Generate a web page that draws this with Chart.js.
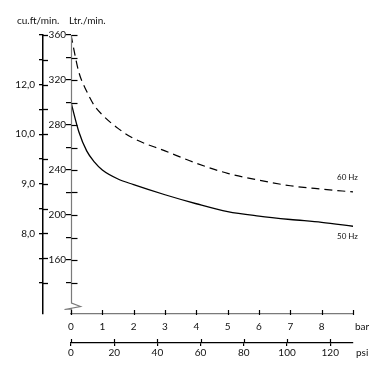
<!DOCTYPE html>
<html>
<head>
<meta charset="utf-8">
<script src="https://cdn.jsdelivr.net/npm/chart.js@4.4.1/dist/chart.umd.min.js"></script>
<style>
  html, body { margin: 0; padding: 0; background: #fff; }
  canvas { display: block; }
</style>
</head>
<body>
<canvas id="c" width="387" height="374"></canvas>
<script>
// ---- data ----
const pressureBar = [0, 0.25, 0.5, 0.75, 1, 1.5, 2, 3, 4, 5, 6, 7, 8, 9];
const flow50Hz = [300, 274, 257, 247, 240, 232, 227, 218, 210, 203, 199, 196, 193.5, 190];
const flow60Hz = [360, 327, 310, 297, 289, 277, 268, 257, 246, 237, 231, 226, 223, 220.5];

const barTicks = [0, 1, 2, 3, 4, 5, 6, 7, 8, 9];
const barTickLabels = ['0', '1', '2', '3', '4', '5', '6', '7', '8', ''];
const barUnit = 'bar';
const psiTicks = [0, 20, 40, 60, 80, 100, 120];
const psiUnit = 'psi';
const PSI_PER_BAR = 14.5038;

const ltrTicks = [140, 160, 180, 200, 220, 240, 260, 280, 300, 320, 340, 360];
const ltrLabeled = [160, 200, 240, 280, 320, 360];
const ltrMin = 112, ltrMax = 360;

// cu.ft axis: tick slots from bottom (0) to top (10), printed labels
const cuftTicks = [0, 1, 2, 3, 4, 5, 6, 7, 8, 9, 10];
const cuftTickLabels = ['', '', '8,0', '', '9,0', '', '10,0', '', '12,0', '', ''];

const seriesNames = ['50 Hz', '60 Hz'];
const axisTitles = ['cu.ft/min.', 'Ltr./min.'];

const FONT = 'Lato, "Open Sans", sans-serif';
const INK = '#111';

const extras = {
  id: 'extras',
  afterDraw(chart) {
    const ctx = chart.ctx;
    const ca = chart.chartArea;
    const sx = chart.scales.x, sp = chart.scales.xPsi, sy = chart.scales.y, sc = chart.scales.yCu;
    ctx.save();
    ctx.strokeStyle = '#000';
    // inner parts of cu.ft ticks
    ctx.lineWidth = 1.3;
    cuftTicks.forEach(v => {
      const y = Math.round(sc.getPixelForValue(v)) + 0.5;
      ctx.beginPath(); ctx.moveTo(sc.right, y); ctx.lineTo(sc.right + 5, y); ctx.stroke();
    });
    // Ltr axis line with break
    const L = ca.left + 0.5, B = ca.bottom;
    ctx.strokeStyle = '#7a7a7a';
    ctx.lineWidth = 1.2;
    ctx.beginPath();
    ctx.moveTo(L, ca.top);
    ctx.lineTo(L, B - 11);
    ctx.lineTo(L + 9, B - 7.5);
    ctx.lineTo(L - 7, B - 4.5);
    ctx.lineTo(L, B - 5);
    ctx.lineTo(L, B);
    ctx.stroke();
    // inner parts of Ltr ticks
    ctx.strokeStyle = '#000';
    ctx.lineWidth = 1.2;
    ltrTicks.forEach(v => {
      const y = Math.round(sy.getPixelForValue(v)) + 0.5;
      ctx.beginPath(); ctx.moveTo(L, y); ctx.lineTo(L + 6, y); ctx.stroke();
    });
    // bar ticks (upward)
    barTicks.forEach(v => {
      const x = Math.round(sx.getPixelForValue(v)) + 0.5;
      ctx.beginPath(); ctx.moveTo(x, sx.top + 1); ctx.lineTo(x, sx.top - 4); ctx.stroke();
    });
    // psi ticks (upward part)
    psiTicks.forEach(v => {
      const x = Math.round(sp.getPixelForValue(v)) + 0.5;
      ctx.beginPath(); ctx.moveTo(x, sp.top); ctx.lineTo(x, sp.top - 4); ctx.stroke();
    });
    // unit labels
    ctx.fillStyle = INK;
    ctx.font = '10px ' + FONT;
    ctx.textAlign = 'left';
    let it = sx.getLabelItems()[0];
    ctx.textBaseline = it.options.textBaseline;
    ctx.fillText(barUnit, sx.getPixelForValue(9) + 2, it.options.translation[1] + (it.textOffset || 0));
    it = sp.getLabelItems()[0];
    ctx.textBaseline = it.options.textBaseline;
    ctx.fillText(psiUnit, sp.right + 3, it.options.translation[1] + (it.textOffset || 0));
    // axis titles
    ctx.textBaseline = 'middle';
    ctx.fillText(axisTitles[0], sc.right - 26, ca.top - 14);
    ctx.fillText(axisTitles[1], ca.left - 2, ca.top - 14);
    // series labels
    ctx.font = '8px ' + FONT;
    const xe = sx.getPixelForValue(pressureBar[pressureBar.length - 1]);
    ctx.fillText(seriesNames[1], xe - 16, sy.getPixelForValue(flow60Hz[flow60Hz.length - 1]) - 14.5);
    ctx.fillText(seriesNames[0], xe - 16, sy.getPixelForValue(flow50Hz[flow50Hz.length - 1]) + 10.5);
    ctx.restore();
  }
};

const tickFont = { family: FONT, size: 10 };

new Chart(document.getElementById('c'), {
  type: 'line',
  data: {
    datasets: [
      {
        label: seriesNames[0],
        data: pressureBar.map((b, i) => ({ x: b, y: flow50Hz[i] })),
        borderColor: '#000', borderWidth: 1.3, pointRadius: 0,
        cubicInterpolationMode: 'monotone', fill: false
      },
      {
        label: seriesNames[1],
        data: pressureBar.map((b, i) => ({ x: b, y: flow60Hz[i] })),
        borderColor: '#000', borderWidth: 1.2, borderDash: [8, 5], pointRadius: 0,
        cubicInterpolationMode: 'monotone', fill: false
      }
    ]
  },
  options: {
    responsive: false,
    animation: false,
    devicePixelRatio: 1,
    layout: { padding: { top: 35, right: 34, left: 0, bottom: 0 } },
    plugins: { legend: { display: false }, tooltip: { enabled: false } },
    scales: {
      x: {
        type: 'linear', position: 'bottom', weight: 0, min: 0, max: 9,
        afterBuildTicks: s => { s.ticks = barTicks.map(v => ({ value: v })); },
        afterFit: s => { s.height = 29; },
        grid: { display: false, drawTicks: false },
        border: { display: true, color: '#7a7a7a', width: 1.2 },
        ticks: {
          font: tickFont, color: INK, padding: 7, maxRotation: 0, autoSkip: false,
          callback: v => barTickLabels[barTicks.indexOf(v)]
        }
      },
      xPsi: {
        type: 'linear', position: 'bottom', weight: 1, min: 0, max: 9 * PSI_PER_BAR,
        afterBuildTicks: s => { s.ticks = psiTicks.map(v => ({ value: v })); },
        afterFit: s => { s.height = 31; },
        grid: { display: true, drawOnChartArea: false, drawTicks: true, tickLength: 3, color: '#000', lineWidth: 1.2 },
        border: { display: true, color: '#000', width: 1.3 },
        ticks: { font: tickFont, color: INK, padding: 1, maxRotation: 0, autoSkip: false }
      },
      y: {
        type: 'linear', position: 'left', weight: 0, min: ltrMin, max: ltrMax,
        afterBuildTicks: s => { s.ticks = ltrTicks.map(v => ({ value: v })); },
        afterFit: s => { s.width = 28; },
        grid: { display: true, drawOnChartArea: false, drawTicks: true, tickLength: 5, color: '#000', lineWidth: 1.2 },
        border: { display: false },
        ticks: {
          font: tickFont, color: INK, padding: 0, autoSkip: false,
          callback: v => (ltrLabeled.includes(v) ? String(v) : '')
        }
      },
      yCu: {
        type: 'linear', position: 'left', weight: 1, min: -1.25, max: 10,
        afterBuildTicks: s => { s.ticks = cuftTicks.map(v => ({ value: v })); },
        afterFit: s => { s.width = 43; },
        grid: { display: true, drawOnChartArea: false, drawTicks: true, tickLength: 4, color: '#000', lineWidth: 1.3 },
        border: { display: true, color: '#000', width: 1.5 },
        ticks: {
          font: tickFont, color: INK, padding: 4, autoSkip: false,
          callback: v => cuftTickLabels[cuftTicks.indexOf(v)]
        }
      }
    }
  },
  plugins: [extras]
});
</script>
</body>
</html>
